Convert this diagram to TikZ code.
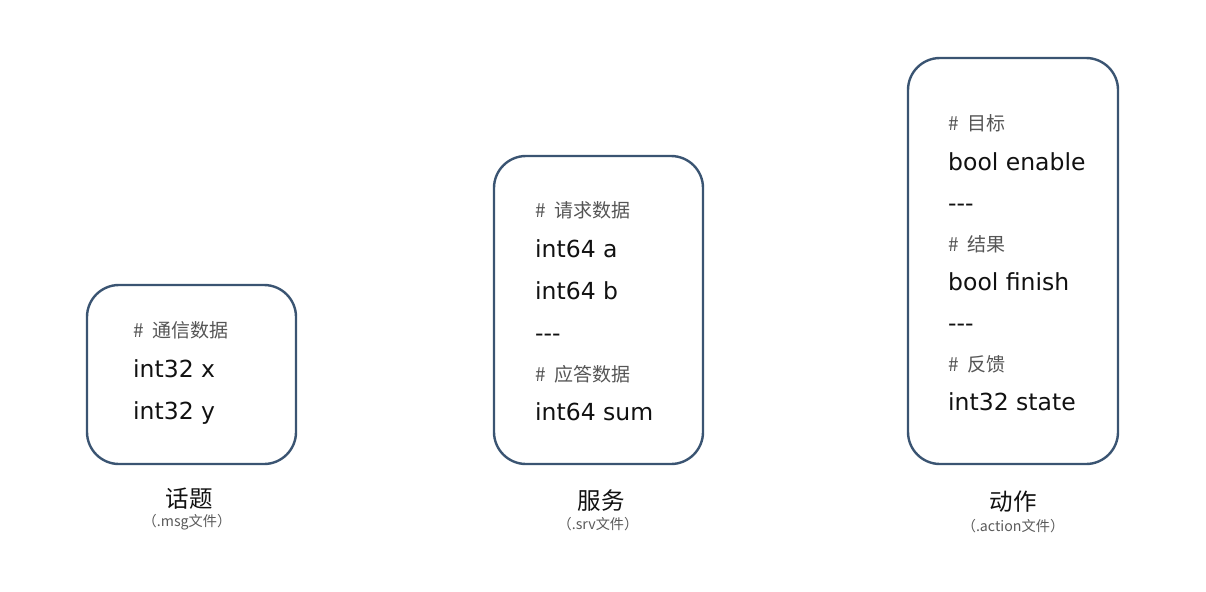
\documentclass[tikz,border=0pt]{standalone}
\usepackage{fontspec}
\setmainfont{DejaVu Sans}
\newfontfamily\cjk{Noto Sans CJK SC}
\definecolor{boxline}{RGB}{58,84,114}
\definecolor{cmt}{RGB}{85,85,85}
\definecolor{txt}{RGB}{17,17,17}
\definecolor{sub}{RGB}{90,90,90}
\newcommand\hs{\#\hspace{9pt}}
\tikzset{
  box/.style={draw=boxline, line width=2.4pt, rounded corners=32pt, rectangle, inner sep=0pt},
  code/.style={anchor=base west, inner sep=0pt, text=txt, font=\fontsize{23.5}{27}\selectfont},
  comment/.style={anchor=base west, inner sep=0pt, text=cmt, font=\cjk\fontsize{19}{23}\selectfont},
  title/.style={anchor=center, inner sep=0pt, text=txt, font=\cjk\fontsize{23.5}{26}\selectfont},
  subtitle/.style={anchor=center, inner sep=0pt, text=sub, font=\cjk\fontsize{14.2}{17}\selectfont}
}
\begin{document}
\begin{tikzpicture}[x=1pt,y=-1pt]
\useasboundingbox (0,0) rectangle (1206,591);
% boxes
\node (b1) [box, minimum width=209pt, minimum height=179pt] at (191.5,374.5) {};
\node (b2) [box, minimum width=209pt, minimum height=308pt] at (598.5,310) {};
\node (b3) [box, minimum width=210pt, minimum height=406pt] at (1013,261) {};
% box 1
\node (c11) [comment] at (133,337) {\hs 通信数据};
\node (l11) [code] at (133,377) {int32 x};
\node (l12) [code] at (133,419) {int32 y};
% box 2
\node (c21) [comment] at (535,217) {\hs 请求数据};
\node (l21) [code] at (535,257) {int64 a};
\node (l22) [code] at (535,299) {int64 b};
\node (l23) [code] at (535,341) {-{}-{}-};
\node (c22) [comment] at (535,381) {\hs 应答数据};
\node (l24) [code] at (535,420) {int64 sum};
% box 3
\node (c31) [comment] at (948,131) {\hs 目标};
\node (l31) [code] at (948,170) {bool enable};
\node (l32) [code] at (948,211) {-{}-{}-};
\node (c32) [comment] at (948,251) {\hs 结果};
\node (l33) [code] at (948,290) {bool finish};
\node (l34) [code] at (948,331) {-{}-{}-};
\node (c33) [comment] at (948,371) {\hs 反馈};
\node (l35) [code] at (948,410) {int32 state};
% labels
\node (t1) [title] at (189,499) {话题};
\node (s1) [subtitle] at (187,522) {（.msg文件）};
\node (t2) [title] at (601,501) {服务};
\node (s2) [subtitle] at (598,524) {（.srv文件）};
\node (t3) [title] at (1013,502) {动作};
\node (s3) [subtitle] at (1013,526) {（.action文件）};
\end{tikzpicture}
\end{document}
